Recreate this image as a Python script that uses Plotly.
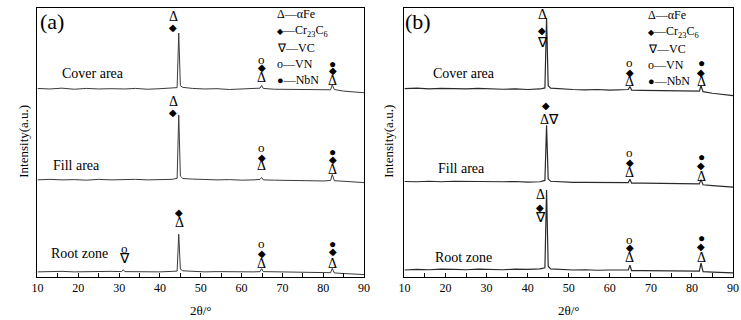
import plotly.graph_objects as go

# ---------------- data ----------------
two_theta = [10, 13, 16, 19, 22, 25, 28, 30.6, 31.0, 31.4, 34, 37, 40, 43, 44.2, 44.6, 45.0, 45.6,
             48, 51, 54, 57, 60, 63, 64.5, 64.9, 65.3, 68, 71, 74, 77, 80, 81.8, 82.2, 82.7, 85, 88, 90]

a_cover = [0.2, 0.0, 0.3, -0.1, 0.2, 0.0, 0.1, 0.0, 0.1, 0.0, 0.2, -0.1, 0.1, 0.3, 0.5, 20.8, 1.2, 0.6,
           0.2, 0.0, 0.1, -0.2, -0.1, 0.0, 0.3, 1.3, 0.2, -0.1, -0.2, -0.1, -0.3, -0.4, -0.3, 1.6, -0.2, -0.8, -1.2, -1.4]
a_fill = [0.0, 0.2, 0.0, 0.1, -0.1, 0.2, 0.0, 0.1, 0.0, 0.1, 0.2, 0.0, 0.1, 0.2, 0.6, 24.1, 1.4, 0.5,
          0.3, 0.1, 0.0, 0.1, -0.1, 0.0, 0.2, 0.9, 0.0, -0.1, -0.2, -0.1, -0.3, -0.4, -0.2, 2.0, -0.3, -0.6, -0.9, -1.0]
a_root = [0.0, 0.1, 0.2, 0.0, 0.1, 0.0, 0.2, 0.1, 0.8, 0.1, 0.0, 0.1, 0.0, 0.2, 0.3, 14.0, 1.0, 0.4,
          0.1, 0.0, 0.1, 0.0, -0.1, 0.0, 0.1, 1.2, 0.1, 0.0, -0.1, -0.2, -0.3, -0.4, -0.3, 1.3, -0.4, -0.6, -0.8, -1.0]

b_cover = [0.1, 0.3, 0.0, 0.2, 0.1, 0.0, 0.2, 0.0, 0.1, 0.0, -0.1, 0.0, -0.2, 0.0, 0.4, 26.4, 1.2, 0.3,
           0.0, -0.2, -0.3, -0.2, -0.4, -0.3, -0.2, 0.9, -0.4, -0.5, -0.6, -0.6, -0.8, -0.9, -0.8, 1.2, -1.0, -1.6, -2.2, -2.5]
b_fill = [0.1, 0.0, 0.2, 0.0, 0.2, 0.1, 0.0, 0.1, 0.0, 0.1, 0.0, 0.1, -0.1, 0.0, 0.5, 21.0, 1.0, 0.2,
          -0.1, -0.2, -0.2, -0.3, -0.3, -0.4, -0.3, 0.9, -0.5, -0.5, -0.6, -0.7, -0.8, -0.9, -0.8, 0.8, -1.1, -1.4, -1.8, -2.0]
b_root = [0.0, 0.2, 0.1, 0.3, 0.2, 0.1, 0.3, 0.2, 0.1, 0.2, 0.1, 0.3, 0.2, 0.4, 0.8, 29.7, 1.4, 0.4,
          0.1, 0.0, 0.1, -0.1, 0.0, -0.1, 0.0, 1.8, -0.2, -0.2, -0.3, -0.3, -0.4, -0.5, -0.4, 2.6, -0.6, -0.8, -1.0, -1.1]

region_names = ["Cover area", "Fill area", "Root zone"]
offsets_a = [69.9, 36.1, 1.9]
offsets_b = [69.9, 35.4, 2.6]

legend_lines = ["Δ—αFe",
                "<span style='font-size:8px'>◆</span>—Cr<sub>23</sub>C<sub>6</sub>",
                "∇—VC", "o—VN",
                "<span style='font-size:11px'>●</span>—NbN"]
x_ticks = [10, 20, 30, 40, 50, 60, 70, 80, 90]

FONT = "Liberation Serif"

fig = go.Figure()
for series, off in zip([a_cover, a_fill, a_root], offsets_a):
    fig.add_trace(go.Scatter(x=two_theta, y=[v + off for v in series], mode="lines",
                             line=dict(color="#3a3a3a", width=1.0), xaxis="x", yaxis="y",
                             showlegend=False, hoverinfo="skip"))
for series, off in zip([b_cover, b_fill, b_root], offsets_b):
    fig.add_trace(go.Scatter(x=two_theta, y=[v + off for v in series], mode="lines",
                             line=dict(color="#2a2a2a", width=1.2), xaxis="x2", yaxis="y2",
                             showlegend=False, hoverinfo="skip"))

ann = []

def txt(xref, yref, x, y, text, size=13, xanchor="center"):
    ann.append(dict(xref=xref, yref=yref, x=x, y=y, text=text, showarrow=False,
                    font=dict(family=FONT, size=size, color="black"),
                    xanchor=xanchor, yanchor="middle"))

# peak markers: (x, y, symbol)
sym_size = {"Δ": 14, "◆": 10, "∇": 14, "o": 13, "●": 12, "Δ∇": 14}
marks_a = [
    (43.3, 96.7, "Δ"), (43.3, 92.9, "◆"),
    (64.9, 81.0, "o"), (64.9, 77.7, "◆"), (64.9, 74.0, "Δ"),
    (82.3, 79.2, "●"), (82.3, 76.6, "◆"), (82.3, 73.2, "Δ"),
    (43.3, 65.1, "Δ"), (43.3, 61.0, "◆"),
    (64.9, 48.3, "o"), (64.9, 44.6, "◆"), (64.9, 41.3, "Δ"),
    (82.3, 46.5, "●"), (82.3, 43.5, "◆"), (82.3, 39.8, "Δ"),
    (44.7, 23.8, "◆"), (44.7, 20.1, "Δ"),
    (31.2, 10.6, "o"), (31.2, 7.0, "∇"),
    (64.9, 12.3, "o"), (64.9, 8.9, "◆"), (64.9, 5.2, "Δ"),
    (82.3, 12.3, "●"), (82.3, 9.3, "◆"), (82.3, 5.2, "Δ"),
]
marks_b = [
    (43.7, 97.4, "Δ"), (43.4, 91.8, "◆"), (43.5, 87.0, "∇"),
    (64.8, 79.9, "o"), (64.8, 76.2, "◆"), (64.8, 72.5, "Δ"),
    (82.3, 79.6, "●"), (82.3, 76.2, "◆"), (82.3, 72.5, "Δ"),
    (44.5, 63.9, "◆"), (45.4, 58.7, "Δ∇"),
    (64.8, 46.1, "o"), (64.8, 42.4, "◆"), (64.8, 38.7, "Δ"),
    (82.3, 44.6, "●"), (82.3, 41.6, "◆"), (82.3, 37.5, "Δ"),
    (43.1, 30.5, "Δ"), (43.1, 26.0, "◆"), (43.1, 22.3, "∇"),
    (64.8, 14.1, "o"), (64.8, 10.8, "◆"), (64.8, 7.1, "Δ"),
    (82.3, 14.5, "●"), (82.3, 11.2, "◆"), (82.3, 7.4, "Δ"),
]
for x, y, s in marks_a:
    txt("x", "y", x, y, s, sym_size[s])
for x, y, s in marks_b:
    txt("x2", "y2", x, y, s, sym_size[s])

# region labels
for (x, y), name in zip([(23.5, 75.8), (19.6, 41.6), (20.4, 8.6)], region_names):
    txt("x", "y", x, y, name, 14)
for (x, y), name in zip([(24.4, 75.5), (23.9, 40.5), (24.4, 7.4)], region_names):
    txt("x2", "y2", x, y, name, 14)

# legends
leg_y = [97.8, 91.4, 85.1, 79.2, 73.2]
for ln, y in zip(legend_lines, leg_y):
    txt("x", "y", 68.2, y, ln, 12, "left")
    txt("x2", "y2", 68.9, y - 0.4, ln, 12, "left")

# panel tags
txt("paper", "paper", 47 / 741, 1 - 22 / 320, "(a)", 22)
txt("paper", "paper", 419 / 741, 1 - 22 / 320, "(b)", 22)

# axis titles
for xp in [17, 388]:
    ann.append(dict(xref="paper", yref="paper", x=xp / 741, y=1 - 141 / 320, text="Intensity(a.u.)",
                    textangle=-90, showarrow=False, font=dict(family=FONT, size=13, color="black"),
                    xanchor="center", yanchor="middle"))
for xp in [198, 572]:
    txt("paper", "paper", xp / 741, 1 - 310 / 320, "2θ/°", 13)

xcommon = dict(range=[10, 90], tickvals=x_ticks, ticktext=[str(t) for t in x_ticks],
               ticks="inside", ticklen=4, tickcolor="black", showline=True, linecolor="black",
               linewidth=1, mirror=True, showgrid=False, zeroline=False,
               tickfont=dict(family=FONT, size=12, color="black"),
               minor=dict(dtick=5, tick0=10, ticks="inside", ticklen=4, tickcolor="black"))
ycommon = dict(range=[0, 100], showticklabels=False, ticks="", showline=True, linecolor="black",
               linewidth=1, mirror=True, showgrid=False, zeroline=False)

fig.update_layout(
    width=741, height=320, margin=dict(l=0, r=0, t=0, b=0),
    paper_bgcolor="white", plot_bgcolor="white",
    xaxis=dict(domain=[32 / 741, 364 / 741], anchor="y", **xcommon),
    yaxis=dict(domain=[1 - 277 / 320, 1 - 8 / 320], anchor="x", **ycommon),
    xaxis2=dict(domain=[405 / 741, 739 / 741], anchor="y2", **xcommon),
    yaxis2=dict(domain=[1 - 277 / 320, 1 - 8 / 320], anchor="x2", **ycommon),
    annotations=ann,
)

fig.write_html("out.html")
